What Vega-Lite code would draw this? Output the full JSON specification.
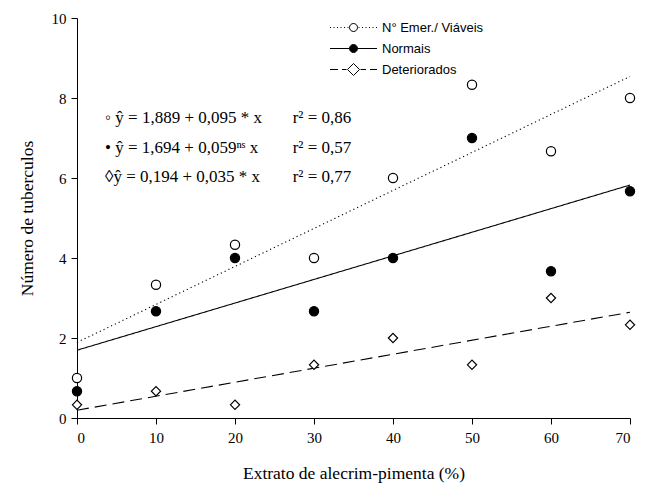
{
  "$schema": "https://vega.github.io/schema/vega-lite/v6.json",
  "width": 553,
  "height": 400,
  "autosize": {"type": "none"},
  "padding": {"left": 77, "top": 18, "right": 22, "bottom": 68},
  "background": "white",
  "config": {
    "view": {"stroke": null},
    "axis": {
      "grid": false,
      "domainColor": "black",
      "tickColor": "black",
      "tickSize": 6,
      "labelColor": "black",
      "labelFont": "Liberation Serif",
      "labelFontSize": 15,
      "titleFont": "Liberation Serif",
      "titleFontSize": 17.5,
      "titleFontWeight": "normal",
      "titleColor": "black"
    }
  },
  "resolve": {"scale": {"shape": "independent", "fill": "independent", "size": "independent", "stroke": "independent"}},
  "datasets": {
    "obs": [
      {"x": 0, "grupo": "E", "y": 1.0},
      {"x": 10, "grupo": "E", "y": 3.33},
      {"x": 20, "grupo": "E", "y": 4.33},
      {"x": 30, "grupo": "E", "y": 4.0},
      {"x": 40, "grupo": "E", "y": 6.0},
      {"x": 50, "grupo": "E", "y": 8.33},
      {"x": 60, "grupo": "E", "y": 6.67},
      {"x": 70, "grupo": "E", "y": 8.0},
      {"x": 0, "grupo": "N", "y": 0.67},
      {"x": 10, "grupo": "N", "y": 2.67},
      {"x": 20, "grupo": "N", "y": 4.0},
      {"x": 30, "grupo": "N", "y": 2.67},
      {"x": 40, "grupo": "N", "y": 4.0},
      {"x": 50, "grupo": "N", "y": 7.0},
      {"x": 60, "grupo": "N", "y": 3.67},
      {"x": 70, "grupo": "N", "y": 5.67},
      {"x": 0, "grupo": "D", "y": 0.33},
      {"x": 10, "grupo": "D", "y": 0.67},
      {"x": 20, "grupo": "D", "y": 0.33},
      {"x": 30, "grupo": "D", "y": 1.33},
      {"x": 40, "grupo": "D", "y": 2.0},
      {"x": 50, "grupo": "D", "y": 1.33},
      {"x": 60, "grupo": "D", "y": 3.0},
      {"x": 70, "grupo": "D", "y": 2.33}
    ],
    "fit": [
      {"x": 0, "serie": "E", "y": 1.889},
      {"x": 70, "serie": "E", "y": 8.539},
      {"x": 0, "serie": "N", "y": 1.694},
      {"x": 70, "serie": "N", "y": 5.824},
      {"x": 0, "serie": "D", "y": 0.194},
      {"x": 70, "serie": "D", "y": 2.644}
    ],
    "eqs": [
      {"eq": "◦ ŷ = 1,889 + 0,095 * x", "r2": "r² = 0,86", "y": 7.5},
      {"eq": "• ŷ = 1,694 + 0,059ⁿˢ x", "r2": "r² = 0,57", "y": 6.75},
      {"eq": "◊ŷ = 0,194 + 0,035 * x", "r2": "r² = 0,77", "y": 6.02}
    ]
  },
  "layer": [
    {
      "data": {"name": "fit"},
      "mark": {"type": "line", "color": "black", "strokeWidth": 1.1},
      "encoding": {
        "x": {
          "field": "x", "type": "quantitative",
          "scale": {"domain": [0, 70], "nice": false},
          "axis": {"values": [0, 10, 20, 30, 40, 50, 60, 70], "title": "Extrato de alecrim-pimenta (%)", "titlePadding": 19, "labelPadding": 6}
        },
        "y": {
          "field": "y", "type": "quantitative",
          "scale": {"domain": [0, 10], "nice": false},
          "axis": {"values": [0, 2, 4, 6, 8, 10], "title": "Número de tuberculos", "titlePadding": 15, "labelPadding": 5}
        },
        "strokeDash": {
          "field": "serie", "type": "nominal",
          "scale": {"domain": ["E", "N", "D"], "range": [[1.2, 3], [1, 0], [12, 6]]},
          "legend": null
        }
      }
    },
    {
      "data": {"name": "obs"},
      "mark": {"type": "point", "stroke": "black", "strokeWidth": 1.2, "opacity": 1, "filled": false},
      "encoding": {
        "x": {"field": "x", "type": "quantitative"},
        "y": {"field": "y", "type": "quantitative"},
        "shape": {
          "field": "grupo", "type": "nominal",
          "scale": {"domain": ["E", "N", "D"], "range": ["circle", "circle", "diamond"]},
          "legend": null
        },
        "fill": {
          "field": "grupo", "type": "nominal",
          "scale": {"domain": ["E", "N", "D"], "range": ["white", "black", "white"]},
          "legend": null
        },
        "size": {
          "field": "grupo", "type": "nominal",
          "scale": {"domain": ["E", "N", "D"], "range": [85, 85, 125]},
          "legend": null
        }
      }
    },
    {
      "data": {"values": []},
      "mark": {"type": "point", "strokeWidth": 1, "opacity": 1},
      "encoding": {
        "shape": {
          "field": "legenda", "type": "nominal",
          "scale": {
            "domain": ["N° Emer./ Viáveis", "Normais", "Deteriorados"],
            "range": [
              "M-2.35,0h0.1M-2.0,0h0.1M-1.65,0h0.1M-1.3,0h0.1M-0.95,0h0.1M-0.6,0h0.1M0.5,0h0.1M0.85,0h0.1M1.2,0h0.1M1.55,0h0.1M1.9,0h0.1M2.25,0h0.1M-0.4,0A0.4,0.4 0 1,0 0.4,0A0.4,0.4 0 1,0 -0.4,0Z",
              "M-2.35,0H-0.4M0.4,0H2.35M-0.4,0A0.4,0.4 0 1,0 0.4,0A0.4,0.4 0 1,0 -0.4,0Z",
              "M-2.35,0H-1.55M-1.15,0H-0.7M0.7,0H1.25M1.65,0H2.35M-0.6,0L0,-0.6L0.6,0L0,0.6Z"
            ]
          },
          "legend": {
            "title": null,
            "orient": "none",
            "legendX": 266,
            "legendY": -1,
            "labelFont": "Liberation Sans",
            "labelFontSize": 13,
            "labelColor": "black",
            "labelOffset": 18,
            "symbolSize": 400,
            "symbolStrokeWidth": 1,
            "rowPadding": 3
          }
        },
        "fill": {
          "field": "legenda", "type": "nominal",
          "scale": {"domain": ["N° Emer./ Viáveis", "Normais", "Deteriorados"], "range": ["white", "black", "white"]}
        },
        "stroke": {
          "field": "legenda", "type": "nominal",
          "scale": {"domain": ["N° Emer./ Viáveis", "Normais", "Deteriorados"], "range": ["black", "black", "black"]}
        }
      }
    },
    {
      "data": {"name": "eqs"},
      "mark": {"type": "text", "align": "left", "baseline": "middle", "font": "Liberation Serif", "fontSize": 17, "color": "black"},
      "encoding": {
        "x": {"datum": 3.55, "type": "quantitative"},
        "y": {"field": "y", "type": "quantitative"},
        "text": {"field": "eq"}
      }
    },
    {
      "data": {"name": "eqs"},
      "mark": {"type": "text", "align": "left", "baseline": "middle", "font": "Liberation Serif", "fontSize": 17, "color": "black"},
      "encoding": {
        "x": {"datum": 27.3, "type": "quantitative"},
        "y": {"field": "y", "type": "quantitative"},
        "text": {"field": "r2"}
      }
    }
  ]
}
